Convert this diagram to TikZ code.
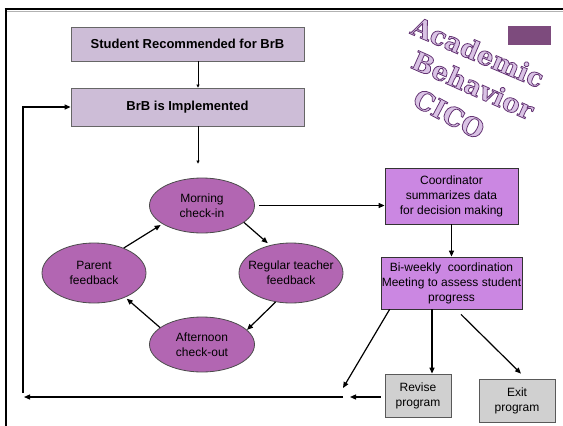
\documentclass[tikz,border=0pt]{standalone}
\usepackage{fontspec}
\setmainfont{Liberation Sans}
\newfontfamily\waf[BoldFeatures={FakeBold=3}]{DejaVu Serif}
\usetikzlibrary{shapes.geometric,arrows.meta,calc}
\definecolor{lil}{RGB}{205,189,215}
\definecolor{ellc}{RGB}{178,102,178}
\definecolor{pur}{RGB}{203,135,226}
\definecolor{gry}{RGB}{208,208,208}
\definecolor{dpur}{RGB}{125,75,125}
\newcommand\wart[1]{\special{pdf:bcolor [0.855 0.765 0.898] [0.39 0.20 0.45]}#1\special{pdf:ecolor}}
\begin{document}
\begin{tikzpicture}[x=1pt,y=-1pt,
  tbox/.style={draw=black!60, line width=0.8pt, fill=lil, minimum width=233pt, minimum height=34pt, inner sep=0pt, font=\bfseries\fontsize{13}{15}\selectfont},
  ell/.style={ellipse, draw=black!70, line width=0.8pt, fill=ellc, inner sep=0pt},
  etxt/.style={font=\fontsize{12}{15}\selectfont, align=center, inner sep=0pt},
  pbox/.style={draw=black!80, line width=0.8pt, fill=pur, inner sep=0pt, align=center, font=\fontsize{12}{15}\selectfont},
  gbox/.style={draw=black!65, line width=0.8pt, fill=gry, inner sep=0pt, align=center, font=\fontsize{12}{15}\selectfont},
  arr/.style={line width=1.2pt, -{Triangle[length=6pt,width=5pt]}},
  tarr/.style={line width=0.7pt, -{Triangle[length=3pt,width=3pt]}},
  wa/.style={inner sep=0pt, font=\waf\bfseries\fontsize{26}{28}\selectfont},
]
\useasboundingbox (0,0) rectangle (563,426);
\fill[white] (0,0) rectangle (563,426);
% frame
\draw[gray!60, line width=1pt] (6.5,11) -- (563,11);
\draw[line width=2.2pt] (4.5,9) -- (563,9);
\draw[line width=2pt] (5.5,8) -- (5.5,426);
% boxes
\node[tbox] (B1) at (187.5,44) {Student Recommended for BrB};
\node[tbox, minimum height=38pt] (B2) at (187.5,107) {BrB is Implemented};
\node[ell, minimum width=105pt, minimum height=55pt, label={[etxt]center:Morning\\check-in}] (M) at (202,205.5) {};
\node[ell, minimum width=104pt, minimum height=60pt, label={[etxt]center:Parent\\feedback}] (P) at (94,273) {};
\node[ell, minimum width=104pt, minimum height=60pt, label={[etxt]center:Regular teacher\\feedback}] (R) at (291,273) {};
\node[ell, minimum width=105pt, minimum height=55pt, label={[etxt]center:Afternoon\\check-out}] (A) at (202,344.5) {};
\node[pbox, minimum width=133pt, minimum height=56pt] (C) at (451.5,196) {Coordinator\\summarizes data\\for decision making};
\node[pbox, minimum width=141pt, minimum height=52pt] (W) at (451.5,283) {Bi-weekly\ \ coordination\\Meeting to assess student\\progress};
\node[gbox, minimum width=66pt, minimum height=43pt] (V) at (418,395.5) {Revise\\program};
\node[gbox, minimum width=76pt, minimum height=43pt] (X) at (517,400.5) {Exit\\program};
\node[fill=dpur, minimum width=43pt, minimum height=19pt, inner sep=0pt] (sq) at (529.5,35.5) {};
% connectors
\draw[tarr] ([xshift=10.5pt]B1.south) -- ([xshift=10.5pt]B2.north);
\draw[tarr] ([xshift=10.5pt]B2.south) -- ([xshift=10.5pt,yshift=14pt]B2.south |- M.north);
\draw[arr] ([xshift=4pt]M.east) -- (M.east -| C.west);
\draw[arr] (C.south) -- (W.north);
\draw[arr, shorten >=3pt] (M.-22.6) -- (R.127.5);
\draw[arr, shorten >=2pt] (P.40.8) -- (M.-155);
\draw[arr] (R.-118) -- (A.18);
\draw[arr, shorten >=2pt] (A.158) -- (P.-38);
\coordinate (g1) at (343,388);
\coordinate (g2) at (350,397);
\coordinate (bR) at (343,397);
\coordinate (bL) at (24,397);
\coordinate (lB) at (23,393);
\draw[arr] ([xshift=9pt]W.south west) -- (g1);
\draw[arr] ([xshift=-19.5pt]W.south) -- ([xshift=-19.5pt]W.south |- V.north);
\draw[arr] ([xshift=9.5pt,yshift=-5pt]W.south) -- ([xshift=4pt,yshift=5pt]X.north);
\draw[arr] ([xshift=-4pt,yshift=-1.5pt]V.west) -- (g2);
\draw[arr] (bR) -- (bL);
\draw[arr] (lB) |- (B2.west);
% word art
\node[wa, rotate=-23] (w1) at (478,52) {\wart{Academic}};
\node[wa, rotate=-24] (w2) at (473,85) {\wart{Behavior}};
\node[wa, rotate=-28] (w3) at (449,114) {\wart{CICO}};
\end{tikzpicture}
\end{document}
